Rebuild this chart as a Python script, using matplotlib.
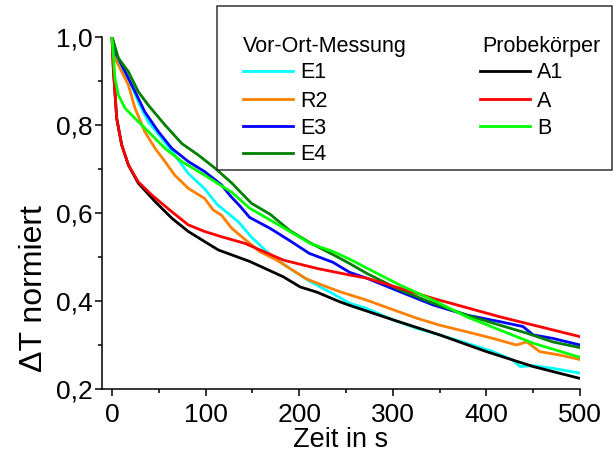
import matplotlib
matplotlib.use("Agg")
import matplotlib.pyplot as plt
from matplotlib.lines import Line2D
from matplotlib.patches import Rectangle
from matplotlib.ticker import FuncFormatter, MultipleLocator

plt.rcParams['font.family'] = ['Liberation Sans', 'DejaVu Sans']

W, H = 613, 459

# Vor-Ort-Messung
t_e1 = [0, 3, 6.8, 17.5, 28, 38.8, 53, 67, 81.5, 99, 112, 135, 149, 169, 190, 211, 233, 254, 272,
        300.5, 325.5, 350, 379, 407, 428, 436, 450, 471, 500]
v_e1 = [1.0, 0.965, 0.944, 0.906, 0.853, 0.807, 0.770, 0.732, 0.69, 0.655, 0.62, 0.58, 0.545, 0.505,
        0.474, 0.445, 0.42, 0.395, 0.383, 0.357, 0.338, 0.323, 0.304, 0.285, 0.266, 0.251, 0.253, 0.247, 0.236]

t_r2 = [0, 3.2, 8.5, 17.5, 24.6, 35, 46, 56.6, 67, 81.5, 99, 108, 117, 128, 142, 158, 176, 190, 208,
        226, 243.6, 272, 300.5, 325.5, 350, 379, 407, 432, 443, 457, 478.6, 500]
v_r2 = [1.0, 0.952, 0.929, 0.891, 0.838, 0.785, 0.747, 0.717, 0.686, 0.656, 0.633, 0.607, 0.595, 0.565,
        0.54, 0.512, 0.493, 0.474, 0.45, 0.435, 0.421, 0.402, 0.380, 0.361, 0.345, 0.330, 0.315, 0.300,
        0.307, 0.285, 0.277, 0.267]

t_e3 = [0, 5, 14, 24.6, 35, 49.5, 63.8, 81.5, 99, 117, 126, 137, 147, 169, 190, 211, 236, 254, 272,
        307.7, 343, 379, 414.5, 439, 450, 471, 500]
v_e3 = [1.0, 0.959, 0.921, 0.876, 0.830, 0.785, 0.747, 0.717, 0.694, 0.664, 0.64, 0.615, 0.59, 0.565,
        0.537, 0.508, 0.488, 0.465, 0.452, 0.421, 0.391, 0.368, 0.353, 0.342, 0.323, 0.315, 0.300]

t_e4 = [0, 6.8, 17.5, 28, 38.8, 56.6, 74.5, 92, 110, 128, 137, 149, 169, 190, 211, 236.5, 254, 272,
        307.7, 343, 379, 414.5, 443, 471, 500]
v_e4 = [1.0, 0.952, 0.921, 0.876, 0.845, 0.800, 0.758, 0.732, 0.702, 0.668, 0.648, 0.622, 0.597, 0.56,
        0.533, 0.505, 0.485, 0.463, 0.425, 0.395, 0.368, 0.345, 0.327, 0.307, 0.294]

# Probekoerper
t_a1 = [0, 1.4, 5, 10.3, 17.5, 28, 46, 64, 81.5, 99, 113.6, 147, 183, 201, 219, 243.6, 254, 300.5,
        350, 400, 450, 500]
v_a1 = [1.0, 0.929, 0.815, 0.755, 0.709, 0.668, 0.626, 0.588, 0.558, 0.535, 0.516, 0.49, 0.455, 0.432,
        0.42, 0.398, 0.39, 0.357, 0.323, 0.285, 0.251, 0.224]

t_a = [0, 1.4, 5, 10.3, 17.5, 28, 42.4, 63.8, 81.5, 99, 117, 142, 183, 219, 254, 272, 343, 414.5, 500]
v_a = [1.0, 0.929, 0.815, 0.755, 0.709, 0.671, 0.641, 0.603, 0.573, 0.558, 0.546, 0.531, 0.493, 0.474,
       0.459, 0.452, 0.406, 0.364, 0.319]

t_b = [0, 3.2, 6.8, 14, 24.6, 38.8, 56.6, 74.5, 99, 128, 147, 169, 190, 211.5, 236.5, 254, 272, 307.7,
       343, 379, 414.5, 450, 500]
v_b = [1.0, 0.906, 0.868, 0.838, 0.815, 0.785, 0.747, 0.717, 0.686, 0.647, 0.611, 0.584, 0.558, 0.531,
       0.512, 0.495, 0.475, 0.436, 0.402, 0.364, 0.334, 0.304, 0.272]

series = [
    ("E1", t_e1, v_e1, "#00FFFF"),
    ("R2", t_r2, v_r2, "#FF8000"),
    ("E3", t_e3, v_e3, "#0000FF"),
    ("E4", t_e4, v_e4, "#008000"),
    ("A1", t_a1, v_a1, "#000000"),
    ("A", t_a, v_a, "#FF0000"),
    ("B", t_b, v_b, "#00FF00"),
]

fig = plt.figure(figsize=(W / 100, H / 100), dpi=100)
ax = fig.add_axes([102 / W, (H - 389) / H, 478 / W, 352 / H])

for name, t, v, c in series:
    ax.plot(t, v, color=c, lw=2, label=name)

ax.set_xlim(-10.7, 500)
ax.set_ylim(0.2, 1.0)
ax.spines['top'].set_visible(False)
ax.spines['right'].set_visible(False)
for s in ('left', 'bottom'):
    ax.spines[s].set_linewidth(1.1)

ax.xaxis.set_major_locator(MultipleLocator(100))
ax.xaxis.set_minor_locator(MultipleLocator(50))
ax.yaxis.set_major_locator(MultipleLocator(0.2))
ax.yaxis.set_minor_locator(MultipleLocator(0.1))
ax.yaxis.set_major_formatter(FuncFormatter(lambda v, p: f"{v:.1f}".replace('.', ',')))
ax.tick_params(which='major', direction='out', length=5, width=1.1, labelsize=19)
ax.tick_params(which='minor', direction='out', length=3, width=1.1)
ax.tick_params(axis='x', pad=5)
ax.tick_params(axis='y', pad=2)

ax.set_xlabel("Zeit in s", fontsize=19.5, labelpad=0)
ax.set_ylabel("\u0394T normiert", fontsize=23)
ax.yaxis.set_label_coords(-0.11, 0.285)


def fx(px):
    return px / W


def fy(py):
    return 1 - py / H


# hand drawn legend box with two groups
fig.add_artist(Rectangle((fx(217), fy(170)), fx(612) - fx(217), fy(6) - fy(170),
                         transform=fig.transFigure, fill=False, ec='#333333', lw=1.1))

fs = 15.5
fig.text(fx(243), fy(52), "Vor-Ort-Messung", fontsize=fs, va='baseline')
fig.text(fx(482), fy(52), "Probek\u00f6rper", fontsize=fs, va='baseline')

rows = [71, 99, 126, 153]
groups = [(series[:4], 243, 293, 300), (series[4:], 480, 530, 537)]
for items, x0, x1, xt in groups:
    for (name, t, v, c), ry in zip(items, rows):
        fig.add_artist(Line2D([fx(x0), fx(x1)], [fy(ry), fy(ry)], transform=fig.transFigure,
                              color=c, lw=2))
        fig.text(fx(xt), fy(ry + 7.5), name, fontsize=fs, va='baseline')

fig.savefig("out.png", dpi=100)
